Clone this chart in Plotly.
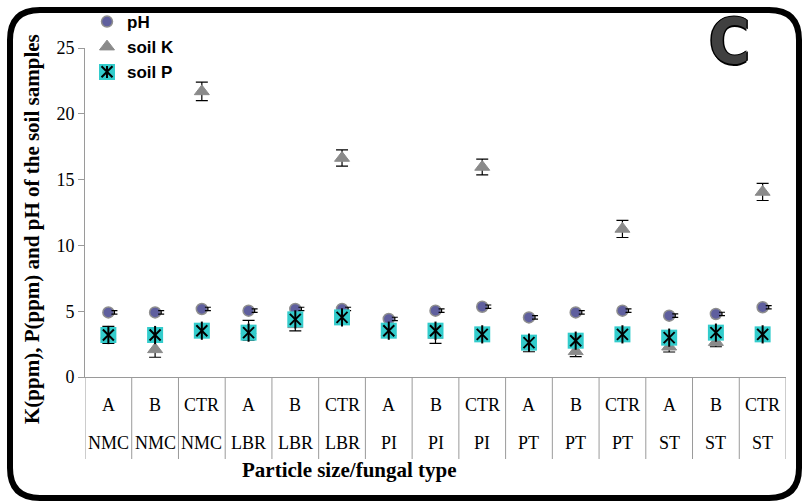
import plotly.graph_objects as go

# ---------------- data ----------------
size_labels = ["A", "B", "CTR"] * 5
fungal_labels = ["NMC"] * 3 + ["LBR"] * 3 + ["PI"] * 3 + ["PT"] * 3 + ["ST"] * 3
x_pos = list(range(15))

ph = [4.91, 4.91, 5.17, 5.04, 5.17, 5.17, 4.41, 5.04, 5.34, 4.53, 4.91, 5.04, 4.66, 4.79, 5.30]
ph_err = [0.13] * 15

soil_k = [3.2, 2.1, 21.7, 3.55, 4.0, 16.64, 3.4, 3.2, 15.96, 2.5, 1.95, 11.25, 2.3, 2.65, 14.06]
soil_k_err = [0.65, 0.6, 0.7, 0.75, 0.5, 0.62, 0.3, 0.65, 0.6, 0.58, 0.4, 0.65, 0.4, 0.35, 0.65]

soil_p = [3.19, 3.19, 3.52, 3.37, 4.38, 4.53, 3.52, 3.52, 3.24, 2.61, 2.76, 3.24, 2.99, 3.37, 3.24]
soil_p_err = [0.2] * 15

y_ticks = [0, 5, 10, 15, 20, 25]

# ---------------- geometry helpers (pixel -> paper) ----------------
W, H = 803, 502
ML, MR, MT, MB = 85, 17, 48, 125
PW, PH = W - ML - MR, H - MT - MB


def pxx(x):
    return (x - ML) / PW


def pxy(y):
    return (H - MB - y) / PH


serif = "Liberation Serif, Times New Roman, serif"
sans = "Liberation Sans, Arial, sans-serif"

fig = go.Figure()

# pH
fig.add_trace(go.Scatter(
    x=x_pos, y=ph, mode="markers", name="pH",
    marker=dict(symbol="circle", size=11, color="#5f5f9e",
                line=dict(color="#8e8e8e", width=1.5)),
    cliponaxis=False,
))
# pH error caps drawn slightly to the right of the markers
fig.add_trace(go.Scatter(
    x=[v + 0.13 for v in x_pos], y=ph, mode="markers", showlegend=False,
    marker=dict(size=1, color="rgba(0,0,0,0)"),
    error_y=dict(type="data", array=ph_err, color="#000000", thickness=1.2, width=3),
    hoverinfo="skip",
))
# soil K
fig.add_trace(go.Scatter(
    x=x_pos, y=soil_k, mode="markers", name="soil K",
    marker=dict(symbol="triangle-up", size=13, color="#8a8a8a",
                line=dict(color="#8a8a8a", width=1)),
    error_y=dict(type="data", array=soil_k_err, color="#000000", thickness=1.2, width=6),
    cliponaxis=False,
))
# soil P (cyan square + asterisk)
fig.add_trace(go.Scatter(
    x=x_pos, y=soil_p, mode="markers", showlegend=False,
    marker=dict(symbol="square", size=16, color="#33cccc", line=dict(width=0)),
    error_y=dict(type="data", array=soil_p_err, color="#000000", thickness=1.2, width=6),
    cliponaxis=False,
))
fig.add_trace(go.Scatter(
    x=x_pos, y=soil_p, mode="markers", name="soil P",
    marker=dict(symbol="x-thin-open", size=11, color="#000000",
                line=dict(color="#000000", width=2)),
    cliponaxis=False,
))
fig.add_trace(go.Scatter(
    x=x_pos, y=soil_p, mode="markers", showlegend=False,
    marker=dict(symbol="line-ns-open", size=13, color="#000000",
                line=dict(color="#000000", width=2)),
    cliponaxis=False,
))

shapes = []
annotations = []

# category separators below the axis
for i in range(len(x_pos) + 1):
    shapes.append(dict(type="line", xref="x", yref="paper",
                       x0=i - 0.5, x1=i - 0.5, y0=0, y1=pxy(459),
                       line=dict(color="#9a9a9a", width=1)))

# two-row category labels
for xi, s, f in zip(x_pos, size_labels, fungal_labels):
    annotations.append(dict(x=xi, y=pxy(405), xref="x", yref="paper", text=s,
                            xanchor="center", yanchor="middle",
                            showarrow=False, font=dict(family=serif, size=18, color="#000")))
    annotations.append(dict(x=xi, y=pxy(443), xref="x", yref="paper", text=f,
                            xanchor="center", yanchor="middle",
                            showarrow=False, font=dict(family=serif, size=18, color="#000")))

# axis titles
annotations.append(dict(x=pxx(349), y=pxy(470), xref="paper", yref="paper",
                        xanchor="center", yanchor="middle",
                        text="<b>Particle size/fungal type</b>", showarrow=False,
                        font=dict(family=serif, size=21, color="#000")))
annotations.append(dict(x=pxx(32), y=pxy(229), xref="paper", yref="paper",
                        xanchor="center", yanchor="middle",
                        text="<b>K(ppm), P(ppm) and pH of the soil samples</b>",
                        showarrow=False, textangle=-90,
                        font=dict(family=serif, size=21, color="#000")))

# panel letter
annotations.append(dict(x=pxx(729), y=pxy(41), xref="paper", yref="paper",
                        xanchor="center", yanchor="middle",
                        text="<b>C</b>", showarrow=False,
                        font=dict(family="DejaVu Sans Condensed, DejaVu Sans, sans-serif",
                                  size=62, color="#404040",
                                  shadow="1.5px 0 0 #000, -1.5px 0 0 #000, 0 1.5px 0 #000, 0 -1.5px 0 #000")))

# legend decoration for soil P (cyan box + vertical stroke behind the legend glyph)
lsx, lsy = 107, 72
shapes.append(dict(type="rect", xref="paper", yref="paper", layer="above",
                   x0=pxx(lsx - 8), x1=pxx(lsx + 8), y0=pxy(lsy + 8), y1=pxy(lsy - 8),
                   fillcolor="#33cccc", line=dict(width=0)))
shapes.append(dict(type="line", xref="paper", yref="paper", layer="above",
                   x0=pxx(lsx), x1=pxx(lsx), y0=pxy(lsy + 6), y1=pxy(lsy - 6),
                   line=dict(color="#000000", width=2)))

# rounded outer frame
x0, x1, y0, y1 = 10, 799, 10, 498
r = 30
fx0, fx1, fy0, fy1 = pxx(x0), pxx(x1), pxy(y0), pxy(y1)
rx, ry = r / PW, r / PH
path = (f"M {fx0 + rx},{fy0} L {fx1 - rx},{fy0} Q {fx1},{fy0} {fx1},{fy0 - ry} "
        f"L {fx1},{fy1 + ry} Q {fx1},{fy1} {fx1 - rx},{fy1} "
        f"L {fx0 + rx},{fy1} Q {fx0},{fy1} {fx0},{fy1 + ry} "
        f"L {fx0},{fy0 - ry} Q {fx0},{fy0} {fx0 + rx},{fy0} Z")
shapes.append(dict(type="path", xref="paper", yref="paper", path=path,
                   line=dict(color="#000000", width=6), layer="above"))

fig.update_layout(
    width=W, height=H,
    margin=dict(l=ML, r=MR, t=MT, b=MB, autoexpand=False),
    paper_bgcolor="white", plot_bgcolor="white",
    showlegend=True,
    legend=dict(x=pxx(87), y=pxy(4), xanchor="left", yanchor="top",
                bgcolor="rgba(0,0,0,0)",
                font=dict(family=sans, size=17, color="#000", weight="bold"),
                traceorder="normal", itemwidth=30),
    xaxis=dict(range=[-0.5, 14.5], showticklabels=False, ticks="",
               showline=True, linecolor="#9a9a9a", linewidth=1,
               showgrid=False, zeroline=False, automargin=False),
    yaxis=dict(range=[0, 25], tickvals=y_ticks, ticks="outside", ticklen=6,
               tickcolor="#9a9a9a", showline=True, linecolor="#9a9a9a", linewidth=1,
               showgrid=False, zeroline=False, automargin=False,
               tickfont=dict(family=serif, size=18, color="#000")),
    shapes=shapes,
    annotations=annotations,
)

fig.write_html("out.html", config={"displayModeBar": False},
               post_script="document.body.style.margin='0';")
